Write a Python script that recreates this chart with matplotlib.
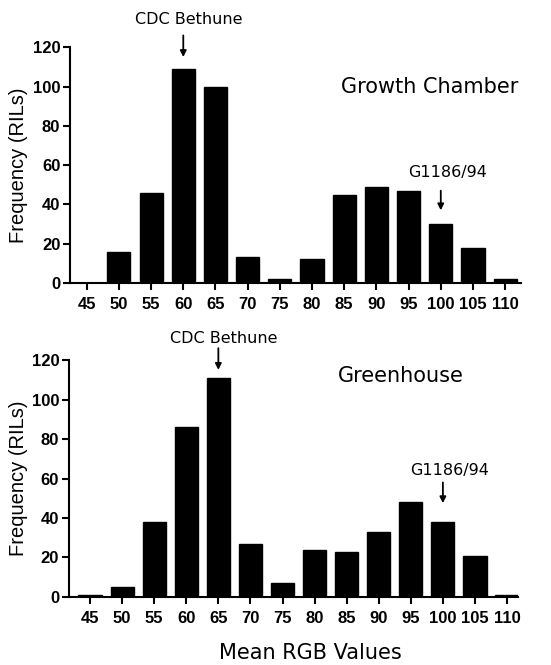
import numpy as np
import matplotlib
matplotlib.use("Agg")
import matplotlib.pyplot as plt

bins = [45, 50, 55, 60, 65, 70, 75, 80, 85, 90, 95, 100, 105, 110]
growth_chamber = [0, 16, 46, 109, 100, 13, 2, 12, 45, 49, 47, 30, 18, 2]
greenhouse = [1, 5, 38, 86, 111, 27, 7, 24, 23, 33, 48, 38, 21, 1]
yticks = [0, 20, 40, 60, 80, 100, 120]

# (title, counts, axes rect, xlim, bethune bin, g1186 bin, label heights)
panels = [
    ("Growth Chamber", growth_chamber, [0.127, 0.5744, 0.819, 0.3546], (42.4, 112.5), 60, 100,
     dict(beth_txt=134, beth_arrow=(126, 115), g_txt=56, g_arrow=(47, 37), title_y=100)),
    ("Greenhouse", greenhouse, [0.125, 0.1023, 0.815, 0.3563], (41.7, 111.7), 65, 100,
     dict(beth_txt=131, beth_arrow=(126, 115), g_txt=64, g_arrow=(58, 47.5), title_y=112)),
]

fig = plt.figure(figsize=(5.51, 6.65), dpi=100)

for title, counts, rect, xlim, beth, g1186, pos in panels:
    ax = fig.add_axes(rect)
    ax.bar(bins, counts, width=3.6, color="black", edgecolor="black", linewidth=1)
    ax.set_xlim(*xlim)
    ax.set_ylim(0, 120)
    ax.set_xticks(bins)
    ax.set_yticks(yticks)
    for lbl in ax.get_xticklabels() + ax.get_yticklabels():
        lbl.set_family("Liberation Sans")
        lbl.set_fontweight("bold")
        lbl.set_fontsize(12)
    ax.tick_params(direction="out", length=5, width=1.5)
    ax.tick_params(axis="x", pad=5)
    ax.tick_params(axis="y", pad=2)
    ax.spines["top"].set_visible(False)
    ax.spines["right"].set_visible(False)
    ax.spines["left"].set_linewidth(1.5)
    ax.spines["bottom"].set_linewidth(1.5)
    ax.set_ylabel("Frequency (RILs)", family="Liberation Sans", fontsize=14.5)
    ax.yaxis.set_label_coords(-0.092, 0.5)

    ax.text(0.6, pos["title_y"], title, transform=ax.get_yaxis_transform(),
            fontsize=15, family="DejaVu Sans", ha="left", va="center")

    # CDC Bethune marker
    ax.annotate("", xy=(beth, pos["beth_arrow"][1]), xytext=(beth, pos["beth_arrow"][0]),
                arrowprops=dict(arrowstyle="-|>", color="black", lw=1.3, mutation_scale=9,
                                shrinkA=0, shrinkB=0), annotation_clip=False)
    ax.text(beth + 0.9, pos["beth_txt"], "CDC Bethune", fontsize=11.5, family="DejaVu Sans",
            ha="center", va="center", clip_on=False)
    # G1186/94 marker
    ax.annotate("", xy=(g1186, pos["g_arrow"][1]), xytext=(g1186, pos["g_arrow"][0]),
                arrowprops=dict(arrowstyle="-|>", color="black", lw=1.3, mutation_scale=9,
                                shrinkA=0, shrinkB=0), annotation_clip=False)
    ax.text(g1186 + 1.1, pos["g_txt"], "G1186/94", fontsize=11.5, family="DejaVu Sans",
            ha="center", va="center", clip_on=False)

fig.text(0.563, 0.018, "Mean RGB Values", fontsize=15, family="DejaVu Sans",
         ha="center", va="center")

fig.savefig("out.png", dpi=100)
